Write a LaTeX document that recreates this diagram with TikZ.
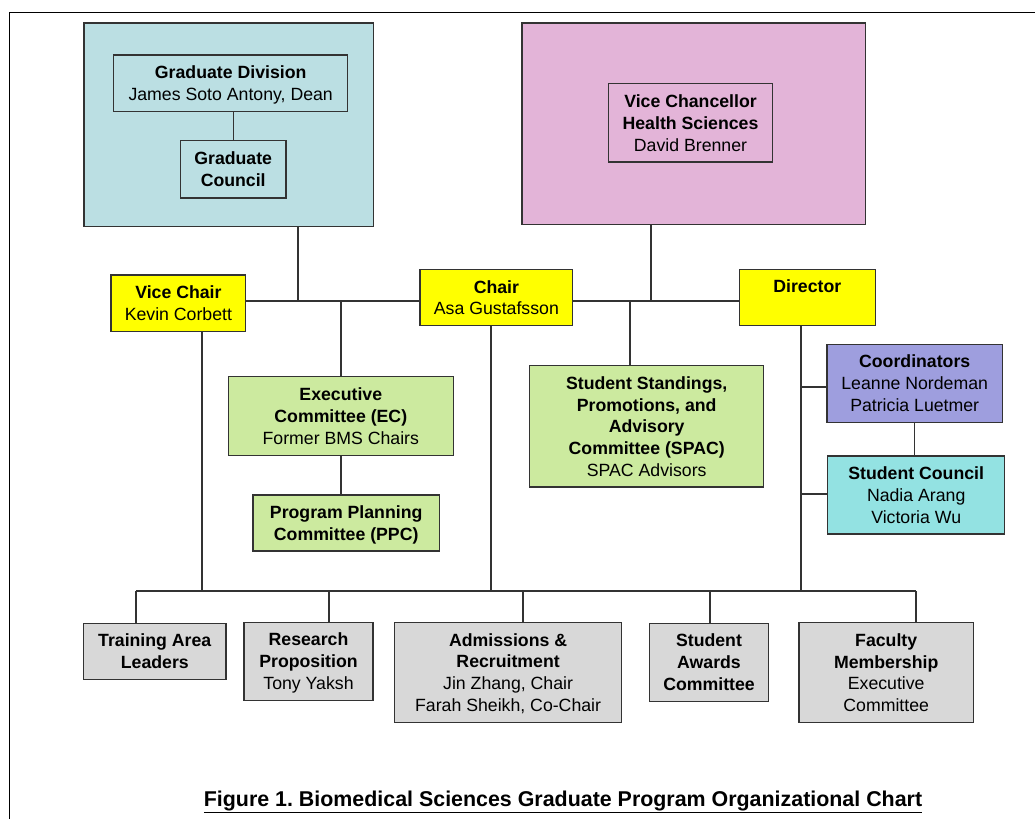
\documentclass[tikz,border=0pt]{standalone}
\usepackage{fontspec}
\setmainfont{Liberation Sans}
\usepackage{tikz}
\usetikzlibrary{positioning, calc}
\definecolor{gradteal}{HTML}{BBDFE3}
\definecolor{healthpink}{HTML}{E3B4D8}
\definecolor{leadyellow}{HTML}{FFFF00}
\definecolor{committeegreen}{HTML}{CCEA9F}
\definecolor{coordpurple}{HTML}{9E9EDE}
\definecolor{councilcyan}{HTML}{93E2E2}
\definecolor{unitgray}{HTML}{D8D8D8}
\definecolor{boxline}{HTML}{333333}
\newcommand{\boxfont}{\fontsize{17.7}{21.8}\selectfont}

\begin{document}
\begin{tikzpicture}[x=1pt, y=-1pt]
        \tikzstyle{box} = [rectangle, draw=boxline, line width=1.3pt, inner sep=0pt, align=center, font=\boxfont, text depth=-1.5pt]
        \tikzstyle{link} = [draw=boxline, line width=1.4pt]

        \useasboundingbox (0,0) rectangle (1035,819);
        \draw[line width=1pt] (9,819) -- (9,12.3) -- (1035,12.3);

        % university level
        \node[box, fill=gradteal, minimum width=289.3, minimum height=203.7] (gradarea) at (228.7,124.9){};
        \node[box, minimum width=234, minimum height=56.3] (graddiv) at (230.7,83.2)
            {\textbf{Graduate Division}\\James Soto Antony, Dean};
        \node[box, minimum width=105.7, minimum height=57.3] (gradcouncil) at (233.2,169.4)
            {\textbf{Graduate}\\\textbf{Council}};
        \node[box, fill=healthpink, minimum width=343.7, minimum height=201.5] (vcarea) at (693.9,123.8){};
        \node[box, minimum width=164.4, minimum height=78.3] (vchancellor) at (690.5,122.9)
            {\textbf{Vice Chancellor}\\\textbf{Health Sciences}\\David Brenner};

        % program leadership
        \node[box, fill=leadyellow, minimum width=134.7, minimum height=56.7] (vicechair) at (178.4,303.4)
            {\textbf{Vice Chair}\\Kevin Corbett};
        \node[box, fill=leadyellow, minimum width=152.7, minimum height=56.4] (chair) at (496.4,297.5)
            {\textbf{Chair}\\Asa Gustafsson};
        \node[box, fill=leadyellow, minimum width=136, minimum height=56.2] (director) at (807.3,297.4)
            {\textbf{Director}\\\mbox{}};

        \node[box, fill=committeegreen, minimum width=225, minimum height=78.6] (exec) at (340.8,416)
            {\textbf{Executive}\\\textbf{Committee (EC)}\\Former BMS Chairs};
        \node[box, fill=committeegreen, minimum width=186.3, minimum height=56] (ppc) at (346.2,523)
            {\textbf{Program Planning}\\\textbf{Committee (PPC)}};
        \node[box, fill=committeegreen, minimum width=234, minimum height=121.3] (spac) at (646.7,426.4)
            {\textbf{Student Standings,}\\\textbf{Promotions, and}\\\textbf{Advisory}\\\textbf{Committee (SPAC)}\\SPAC Advisors};
        \node[box, fill=coordpurple, minimum width=175.3, minimum height=78] (coord) at (914.7,383.3)
            {\textbf{Coordinators}\\Leanne Nordeman\\Patricia Luetmer};
        \node[box, fill=councilcyan, minimum width=177, minimum height=78] (council) at (916.2,495)
            {\textbf{Student Council}\\Nadia Arang\\Victoria Wu};

        % standing committees
        \node[box, fill=unitgray, minimum width=142.5, minimum height=56] (training) at (154.8,651.3)
            {\textbf{Training Area}\\\textbf{Leaders}};
        \node[box, fill=unitgray, minimum width=129, minimum height=78] (research) at (308.5,661.3)
            {\textbf{Research}\\\textbf{Proposition}\\Tony Yaksh};
        \node[box, fill=unitgray, minimum width=227, minimum height=100] (admissions) at (508.1,672.3)
            {\textbf{Admissions \&}\\\textbf{Recruitment}\\Jin Zhang, Chair\\Farah Sheikh, Co-Chair};
        \node[box, fill=unitgray, minimum width=119.4, minimum height=78] (awards) at (709,662.3)
            {\textbf{Student}\\\textbf{Awards}\\\textbf{Committee}};
        \node[box, fill=unitgray, minimum width=174.3, minimum height=99.6] (faculty) at (886.2,672.5)
            {\textbf{Faculty}\\\textbf{Membership}\\Executive\\Committee};

        \coordinate (gradtap) at (298,301);
        \coordinate (vctap) at (651,301);
        \coordinate (ectap) at (341,301);
        \coordinate (spactap) at (630,301);
        \coordinate (vicechairtap) at (202,591);
        \coordinate (chairtap) at (491,591);
        \coordinate (directortap) at (801,591);
        \coordinate (coordtap) at (801,387);
        \coordinate (counciltap) at (801,494);
        \coordinate (trainingtap) at (136,591);
        \coordinate (researchtap) at (329,591);
        \coordinate (admissionstap) at (523,591);
        \coordinate (awardstap) at (710,591);
        \coordinate (facultytap) at (916,591);

        \draw[link] (gradcouncil.north |- graddiv.south) -- (gradcouncil.north);
        \draw[link] (gradarea.south -| gradtap) -- (gradtap);
        \draw[link] (vcarea.south -| vctap) -- (vctap);
        \draw[link] (gradtap -| vicechair.east) -- (gradtap -| chair.west);
        \draw[link] (gradtap -| chair.east) -- (gradtap -| director.west);
        \draw[link] (ectap) -- (ectap |- exec.north);
        \draw[link] (exec.south) -- (exec.south |- ppc.north);
        \draw[link] (spactap) -- (spactap |- spac.north);
        \draw[link] (vicechair.south -| vicechairtap) -- (vicechairtap);
        \draw[link] (chair.south -| chairtap) -- (chairtap);
        \draw[link] (director.south -| directortap) -- (directortap);
        \draw[link] (coordtap) -- (coordtap -| coord.west);
        \draw[link] (counciltap) -- (counciltap -| council.west);
        \draw[link] (coord.south) -- (coord.south |- council.north);
        \draw[link] (trainingtap) -- (facultytap);
        \foreach \unit in {training, research, admissions, awards, faculty}
            \draw[link] (\unit tap) -- (\unit tap |- \unit.north);

        \node[font=\bfseries\fontsize{21.4}{24}\selectfont] (caption) at (563,802)
            {\underline{Figure 1.\ Biomedical Sciences Graduate Program Organizational Chart}};
\end{tikzpicture}
\end{document}
